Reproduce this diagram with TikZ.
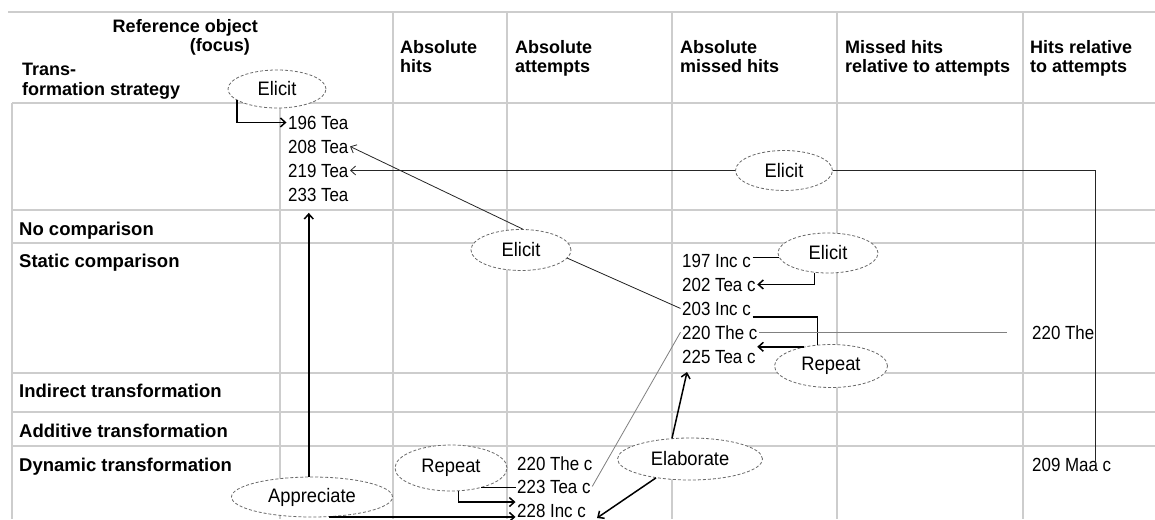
\documentclass[tikz,border=0pt]{standalone}
\usepackage{fontspec}
\setmainfont{Liberation Sans}
\newfontfamily\itemfont[FakeStretch=0.89]{Liberation Sans}
\newfontfamily\bubfont[FakeStretch=0.94]{Liberation Sans}
\usetikzlibrary{shapes.geometric,arrows.meta,calc}
\definecolor{gridc}{RGB}{205,205,205}
\definecolor{bubc}{RGB}{105,105,105}
\begin{document}
\begin{tikzpicture}[x=1pt,y=-1pt,
  gridline/.style={draw=gridc,line width=1.1pt},
  hdr/.style={font=\fontsize{18}{18}\selectfont\bfseries,anchor=base west,inner sep=0pt},
  rowlab/.style={font=\fontsize{18.5}{18}\selectfont\bfseries,anchor=base west,inner sep=0pt},
  item/.style={font=\itemfont\fontsize{19}{19}\selectfont,anchor=base west,inner sep=1.5pt},
  bub/.style={ellipse,draw=bubc,fill=white,dash pattern=on 3pt off 2pt,line width=0.8pt,inner sep=0pt,font=\bubfont\fontsize{19.5}{19}\selectfont},
  tip/.style={-{Straight Barb[length=5pt,width=9pt]}},
  thk/.style={line width=1.5pt,tip},
  thkl/.style={line width=1.5pt},
  thn/.style={line width=0.8pt,draw=black!85,tip},
  thnl/.style={line width=0.8pt,draw=black!85},
  grayl/.style={line width=0.8pt,draw=black!50}
]
\fill[white] (0,0) rectangle (1155,519);
\useasboundingbox (0,0) rectangle (1155,519);

% grid
\draw[gridline] (8,12) -- (1155,12);
\foreach \yy in {103,210,243,373,412,446}
  \draw[gridline] (12,\yy) -- (1155,\yy);
\draw[gridline] (12,103) -- (12,519);
\draw[gridline] (280,103) -- (280,519);
\foreach \xx in {393,507,672,837,1023}
  \draw[gridline] (\xx,12) -- (\xx,519);

% header
\node[hdr,anchor=base east] (h1a) at (258,33) {Reference object};
\node[hdr,anchor=base east] (h1b) at (250,52) {(focus)};
\node[hdr] (h0a) at (22,75) {Trans-};
\node[hdr] (h0b) at (22,95) {formation strategy};
\node[hdr] (h2a) at (400,53) {Absolute};
\node[hdr] (h2b) at (400,72.5) {hits};
\node[hdr] (h3a) at (515,53) {Absolute};
\node[hdr] (h3b) at (515,72.5) {attempts};
\node[hdr] (h4a) at (680,53) {Absolute};
\node[hdr] (h4b) at (680,72.5) {missed hits};
\node[hdr] (h5a) at (845,53) {Missed hits};
\node[hdr] (h5b) at (845,72.5) {relative to attempts};
\node[hdr] (h6a) at (1030,53) {Hits relative};
\node[hdr] (h6b) at (1030,72.5) {to attempts};

% row labels
\node[rowlab] (r1l) at (19,235) {No comparison};
\node[rowlab] (r2l) at (19,267) {Static comparison};
\node[rowlab] (r3l) at (19,397) {Indirect transformation};
\node[rowlab] (r4l) at (19,437) {Additive transformation};
\node[rowlab] (r5l) at (19,471) {Dynamic transformation};

% bubbles
\node[bub,minimum width=98pt,minimum height=38pt] (e1) at (277,89) {Elicit};
\node[bub,minimum width=97pt,minimum height=40pt] (e2) at (784,170.5) {Elicit};
\node[bub,minimum width=100pt,minimum height=41pt] (e3) at (521,250) {Elicit};
\node[bub,minimum width=100pt,minimum height=40pt] (e4) at (828,253) {Elicit};
\node[bub,minimum width=113pt,minimum height=43pt] (rp1) at (831,366) {Repeat};
\node[bub,minimum width=112pt,minimum height=46pt] (rp2) at (451,468) {Repeat};
\node[bub,minimum width=161pt,minimum height=40pt] (ap) at (312,497) {Appreciate};
\node[bub,minimum width=145pt,minimum height=42pt] (el) at (690,459) {Elaborate};

% items
\node[item] (t196) at (286.5,129) {196 Tea};
\node[item] (t208) at (286.5,153) {208 Tea};
\node[item] (t219) at (286.5,177) {219 Tea};
\node[item] (t233) at (286.5,201) {233 Tea};
\node[item] (t197) at (680.5,267) {197 Inc c};
\node[item] (t202) at (680.5,291) {202 Tea c};
\node[item] (t203) at (680.5,315) {203 Inc c};
\node[item] (t220m) at (680.5,339) {220 The c};
\node[item] (t225) at (680.5,363) {225 Tea c};
\node[item] (t220r) at (1030.5,339) {220 The};
\node[item] (t209) at (1030.5,471) {209 Maa c};
\node[item] (t220b) at (515.5,470) {220 The c};
\node[item] (t223) at (515.5,493) {223 Tea c};
\node[item] (t228) at (515.5,517) {228 Inc c};

% connectors
\draw[thk] (e1.196) |- (t196.west);
\draw[thn] (e3.85) -- (t208.east);
\draw[thnl] (t203.west) -- (e3.350);
\draw[thn] (e2.west) -- (t219.east);
\coordinate (m209) at (1095,465);
\draw[thnl] (e2.east) -| (m209);
\draw[thkl] (t197.east |- e4.185) -- (e4.185);
\draw[thk] (e4.235) |- (t202.east);
\draw[thkl] (t203.south east) -| (rp1.122);
\draw[thk] (rp1.145) -- (rp1.145 -| t225.east);
\draw[grayl] (t220m.east) -- ([xshift=-24pt]t220r.west);
\draw[grayl] (t223.east) -- (t220m.west);
\coordinate (elT) at (687,372);
\coordinate (elB) at (597,518);
\draw[thk] (el.131) -- (elT);
\draw[thk] (el.209) -- (elB);
\draw[thkl] (rp2.327) -- (rp2.327 -| t223.west);
\draw[thk] (rp2.288) |- (t228.north west);
\draw[thk,shorten >=10pt] (ap.99) -- (ap.99 |- t233.south);
\draw[thk] (ap.-50) -- (ap.-50 -| t228.west);
\end{tikzpicture}
\end{document}
